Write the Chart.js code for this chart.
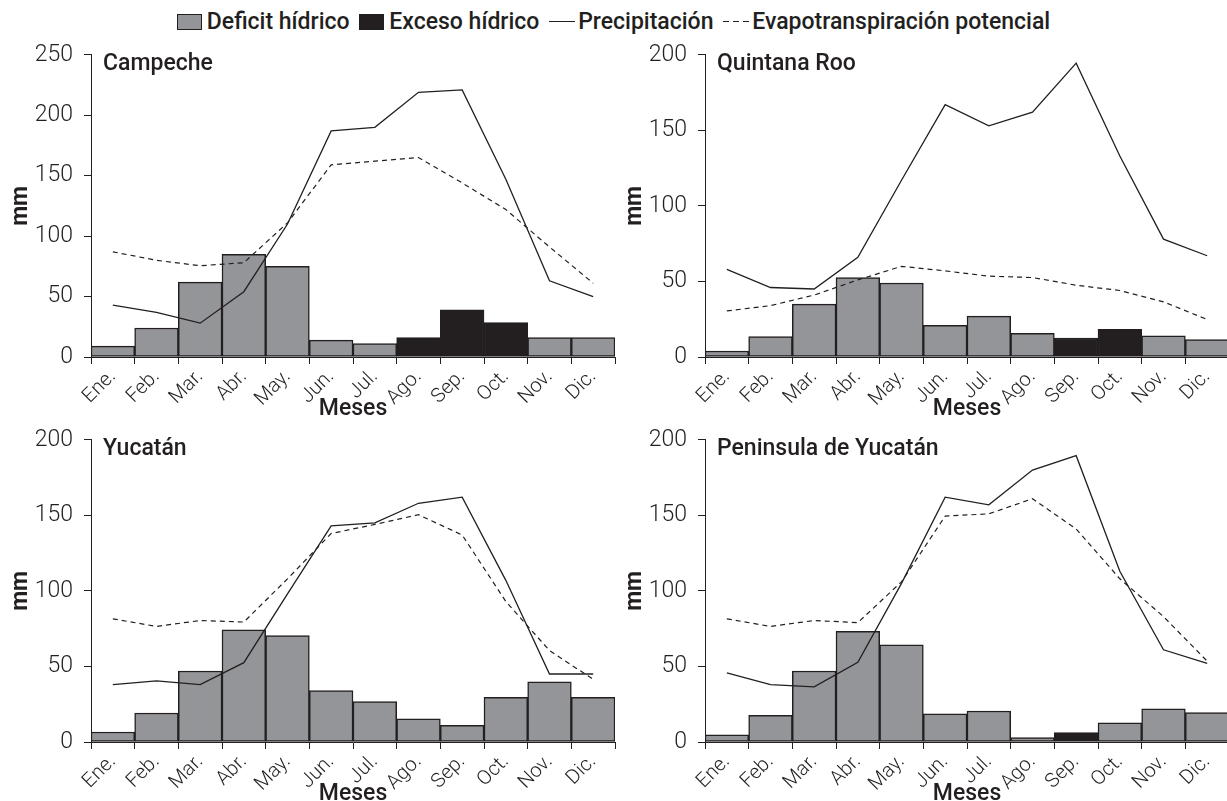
<!DOCTYPE html>
<html>
<head>
<meta charset="utf-8">
<script src="https://cdn.jsdelivr.net/npm/chart.js@4.4.1/dist/chart.umd.min.js"></script>
<style>
html,body{margin:0;padding:0;background:#fff;overflow:hidden;width:1227px;height:801px;position:relative;}
.panel{position:absolute;width:620px;height:396px;}
#legend{position:absolute;top:8px;left:0;width:1227px;text-align:center;font-family:Roboto,sans-serif;font-weight:500;font-size:23px;line-height:28px;color:#231f20;white-space:nowrap;}
#legend .item{display:inline-block;margin:0 2px;}
#legend .box{display:inline-block;width:23px;height:14px;border:1.5px solid #231f20;vertical-align:-1px;margin-right:5px;}
#legend .gray{background:#939598;}
#legend .black{background:#231f20;}
#legend .line{display:inline-block;width:26px;height:1.4px;vertical-align:7px;margin-right:3px;}
#legend .solid{background:#231f20;}
#legend .dashed{background:repeating-linear-gradient(to right,#231f20 0 6px,transparent 6px 10px);}
</style>
</head>
<body>
<div id="legend">
<span class="item"><span class="box gray"></span>Deficit hídrico</span>
<span class="item"><span class="box black"></span>Exceso hídrico</span>
<span class="item"><span class="line solid"></span>Precipitación</span>
<span class="item"><span class="line dashed"></span>Evapotranspiración potencial</span>
</div>
<div class="panel" style="left:0;top:30px;"><canvas id="c1"></canvas></div>
<div class="panel" style="left:614px;top:30px;"><canvas id="c2"></canvas></div>
<div class="panel" style="left:0;top:415px;"><canvas id="c3"></canvas></div>
<div class="panel" style="left:614px;top:415px;"><canvas id="c4"></canvas></div>
<script>
const months = ['Ene.','Feb.','Mar.','Abr.','May.','Jun.','Jul.','Ago.','Sep.','Oct.','Nov.','Dic.'];

const campecheDeficit = [9,24,62,85,75,14,11,null,null,null,16,16];
const campecheExceso  = [null,null,null,null,null,null,null,16,39,28.5,null,null];
const campechePrecip  = [43,37,28,54,110,187,190,219,221,147,63,50];
const campecheETP     = [87,80,75.5,78,111,159,162,165,144,122,91,61];

const quintanaDeficit = [4,13.5,35,52.5,49,21,27,15.7,null,null,14,11.5];
const quintanaExceso  = [null,null,null,null,null,null,null,null,12.6,18.3,null,null];
const quintanaPrecip  = [58,46,45,66,117,167,153,162,194.5,133,78,67];
const quintanaETP     = [30.5,34,41,51,60,57,53.5,52.6,47.5,44,36.5,24.8];

const yucatanDeficit = [6.6,19.2,47,74.3,70.4,34,26.7,15.3,11,29.5,39.8,29.5];
const yucatanExceso  = [null,null,null,null,null,null,null,null,null,null,null,null];
const yucatanPrecip  = [38,40.4,38,52.5,98,143,145,158,162,107,45,45];
const yucatanETP     = [81.5,76.5,80.4,79.4,108,138,144,150.4,137,93,60.5,41.5];

const peninsulaDeficit = [4.8,17.7,47,73.2,64.3,18.6,20.5,3,null,12.7,21.9,19.5];
const peninsulaExceso  = [null,null,null,null,null,null,null,null,6.3,null,null,null];
const peninsulaPrecip  = [45.7,38,36.5,52.7,105,162,157,180,189.5,113,61,52];
const peninsulaETP     = [81.5,76.5,80.4,79,106,149.5,151,161,141,108,83,53.5];

const yMax250 = 250;
const yMax200 = 200;

const INK = '#231f20';
const GRAY = '#939598';

const panelTitle = {
  id: 'panelTitle',
  afterDraw(chart, args, opts) {
    const {ctx, chartArea} = chart;
    ctx.save();
    ctx.font = '500 23px Roboto';
    ctx.fillStyle = INK;
    ctx.textBaseline = 'alphabetic';
    ctx.textAlign = 'left';
    ctx.fillText(opts.text, chartArea.left + 12, chartArea.top + 15);
    ctx.restore();
  }
};

function makePanel(id, title, yMax, deficit, exceso, precip, etp) {
  new Chart(document.getElementById(id), {
    data: {
      labels: months,
      datasets: [
        {type:'line', label:'Precipitación', data:precip, borderColor:INK, borderWidth:1.3, pointRadius:0, fill:false, tension:0, order:0},
        {type:'line', label:'Evapotranspiración potencial', data:etp, borderColor:INK, borderWidth:1.2, borderDash:[5,4], pointRadius:0, fill:false, tension:0, order:0},
        {type:'bar', label:'Deficit hídrico', data:deficit, backgroundColor:GRAY, borderColor:INK, borderWidth:1.5, borderSkipped:false, barPercentage:1, categoryPercentage:1, order:1},
        {type:'bar', label:'Exceso hídrico', data:exceso, backgroundColor:INK, borderColor:INK, borderWidth:1.5, borderSkipped:false, barPercentage:1, categoryPercentage:1, order:2}
      ]
    },
    options: {
      responsive: true,
      maintainAspectRatio: false,
      animation: false,
      events: [],
      layout: {padding: {top: 23, right: 5, left: 0, bottom: 0}},
      plugins: {
        legend: {display: false},
        tooltip: {enabled: false},
        panelTitle: {text: title}
      },
      scales: {
        x: {
          stacked: true,
          offset: true,
          grid: {offset: true, drawOnChartArea: false, drawTicks: true, tickLength: 7, color: INK, lineWidth: 1},
          border: {display: true, color: INK, width: 1},
          ticks: {autoSkip: false, maxRotation: 45, minRotation: 45, padding: 1, color: INK, font: {family: 'Roboto', size: 20, weight: '300'}},
          title: {display: true, text: 'Meses', color: INK, font: {family: 'Roboto', size: 23, weight: '500'}, padding: {top: 0, bottom: 3}},
          afterFit(s) { s.height = 69; }
        },
        y: {
          min: 0,
          max: yMax,
          ticks: {stepSize: 50, padding: 11, color: INK, font: {family: 'Roboto', size: 23, weight: '300'}},
          grid: {drawOnChartArea: false, drawTicks: true, tickLength: 7, color: INK, lineWidth: 1},
          border: {display: true, color: INK, width: 1},
          title: {display: true, text: 'mm', color: INK, font: {family: 'Roboto', size: 23, weight: 'bold'}, padding: {top: 7, bottom: 0}},
          afterFit(s) { s.width = 91; }
        }
      }
    },
    plugins: [panelTitle]
  });
}

makePanel('c1', 'Campeche', yMax250, campecheDeficit, campecheExceso, campechePrecip, campecheETP);
makePanel('c2', 'Quintana Roo', yMax200, quintanaDeficit, quintanaExceso, quintanaPrecip, quintanaETP);
makePanel('c3', 'Yucatán', yMax200, yucatanDeficit, yucatanExceso, yucatanPrecip, yucatanETP);
makePanel('c4', 'Peninsula de Yucatán', yMax200, peninsulaDeficit, peninsulaExceso, peninsulaPrecip, peninsulaETP);
</script>
</body>
</html>
